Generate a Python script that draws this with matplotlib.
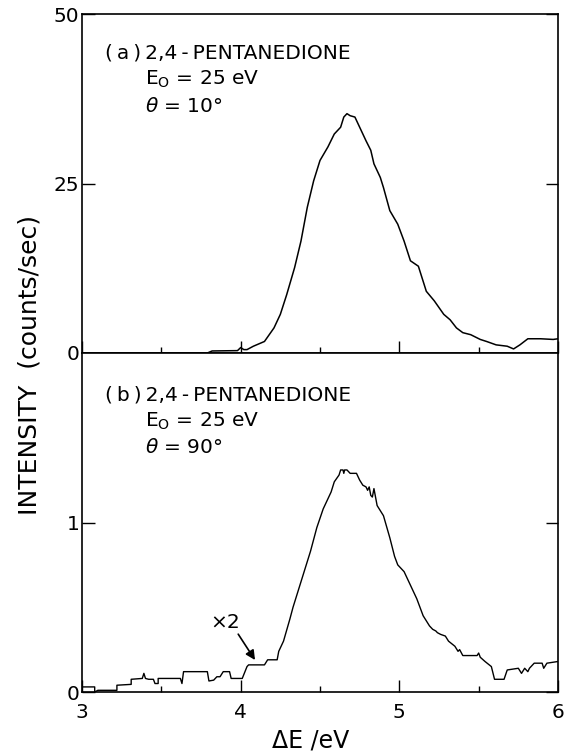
import matplotlib
matplotlib.use("Agg")
import matplotlib.pyplot as plt
from matplotlib.ticker import MultipleLocator, FixedLocator

plt.rcParams['font.family'] = ['DejaVu Sans']
plt.rcParams['mathtext.fontset'] = 'dejavusans'

# ---- data: panel (a), theta = 10 deg, counts/sec ----
a_energy = [3.00, 3.79, 3.82, 3.98, 4.00, 4.02, 4.04, 4.08, 4.15, 4.21, 4.25, 4.29,
            4.34, 4.38, 4.42, 4.46, 4.50, 4.55, 4.59, 4.63, 4.65, 4.67, 4.69, 4.72,
            4.75, 4.79, 4.82, 4.84, 4.88, 4.90, 4.94, 4.99, 5.03, 5.07, 5.12, 5.17,
            5.22, 5.28, 5.32, 5.36, 5.40, 5.45, 5.51, 5.55, 5.61, 5.68, 5.72, 5.76,
            5.81, 5.89, 5.97, 6.00]
a_counts = [0.0, 0.0, 0.3, 0.35, 0.8, 0.5, 0.5, 1.0, 1.7, 3.7, 5.7, 8.6,
            12.6, 16.5, 21.5, 25.4, 28.4, 30.4, 32.3, 33.3, 34.8, 35.3, 35.0, 34.8,
            33.3, 31.3, 29.9, 27.9, 25.9, 24.4, 21.0, 19.0, 16.5, 13.6, 12.8, 9.1,
            7.7, 5.7, 4.9, 3.7, 3.0, 2.7, 2.0, 1.7, 1.2, 1.0, 0.6, 1.2,
            2.1, 2.1, 2.0, 2.1]

# ---- data: panel (b), theta = 90 deg, counts/sec ----
b_energy = [3.00, 3.08, 3.08, 3.10, 3.22, 3.22, 3.31, 3.31, 3.38, 3.39, 3.40, 3.42,
            3.45, 3.46, 3.48, 3.48, 3.62, 3.63, 3.64, 3.71, 3.72, 3.79, 3.80, 3.83,
            3.85, 3.87, 3.89, 3.93, 3.94, 4.01, 4.04, 4.05, 4.15, 4.17, 4.18, 4.23,
            4.24, 4.27, 4.31, 4.33, 4.36, 4.40, 4.44, 4.48, 4.52, 4.57, 4.59, 4.62,
            4.63, 4.645, 4.65, 4.655, 4.67, 4.69, 4.73, 4.75, 4.77, 4.79, 4.80, 4.81,
            4.82, 4.83, 4.84, 4.86, 4.90, 4.94, 4.97, 4.99, 5.03, 5.07, 5.11, 5.15,
            5.19, 5.21, 5.23, 5.24, 5.26, 5.29, 5.31, 5.35, 5.37, 5.38, 5.40, 5.49,
            5.50, 5.51, 5.54, 5.58, 5.60, 5.66, 5.68, 5.75, 5.77, 5.79, 5.81, 5.82,
            5.85, 5.90, 5.91, 5.93, 6.00]
b_counts = [0.03, 0.03, 0.00, 0.01, 0.01, 0.04, 0.045, 0.075, 0.08, 0.11, 0.08, 0.075,
            0.075, 0.05, 0.05, 0.08, 0.08, 0.05, 0.12, 0.12, 0.12, 0.12, 0.065, 0.07,
            0.09, 0.09, 0.12, 0.12, 0.08, 0.08, 0.15, 0.16, 0.16, 0.19, 0.19, 0.19,
            0.24, 0.30, 0.43, 0.50, 0.59, 0.71, 0.83, 0.97, 1.08, 1.18, 1.24, 1.28,
            1.31, 1.31, 1.29, 1.31, 1.31, 1.29, 1.29, 1.25, 1.22, 1.21, 1.19, 1.21,
            1.16, 1.15, 1.20, 1.10, 1.04, 0.91, 0.80, 0.75, 0.71, 0.63, 0.55, 0.45,
            0.39, 0.37, 0.36, 0.35, 0.34, 0.33, 0.30, 0.27, 0.24, 0.25, 0.215, 0.215,
            0.23, 0.205, 0.18, 0.15, 0.075, 0.075, 0.13, 0.14, 0.11, 0.14, 0.12, 0.14,
            0.17, 0.17, 0.14, 0.17, 0.18]

x_ticks = [3, 4, 5, 6]
a_yticks = [0, 25, 50]
b_yticks = [0, 1]

fig = plt.figure(figsize=(5.69, 7.52), dpi=100)
L, W = 82 / 569, 476 / 569
H = 339 / 752
ax_a = fig.add_axes([L, 1 - 353 / 752, W, H])
ax_b = fig.add_axes([L, 1 - 692 / 752, W, H])

for ax in (ax_a, ax_b):
    ax.set_xlim(3, 6)
    ax.xaxis.set_major_locator(FixedLocator(x_ticks))
    ax.xaxis.set_minor_locator(MultipleLocator(0.5))
    ax.tick_params(axis='x', which='major', direction='in', length=9, width=1.0,
                   top=False, labelsize=14.5, pad=8)
    ax.tick_params(axis='x', which='minor', direction='in', length=4, width=1.0, top=False)
    ax.tick_params(axis='y', which='major', direction='in', length=9, width=1.0,
                   right=True, labelsize=14.5, pad=2)
    for s in ax.spines.values():
        s.set_linewidth(1.2)

ax_a.plot(a_energy, a_counts, color='black', lw=1.1)
ax_a.set_ylim(0, 50)
ax_a.yaxis.set_major_locator(FixedLocator(a_yticks))
ax_a.tick_params(axis='x', labelbottom=False)

ax_b.plot(b_energy, b_counts, color='black', lw=1.0)
ax_b.set_ylim(0, 2)
ax_b.yaxis.set_major_locator(FixedLocator(b_yticks))

fs = 14.5
ts = "\u2009"
ax_a.text(0.048, 0.869, f"({ts}a{ts}){ts}2,4{ts}-{ts}PENTANEDIONE", transform=ax_a.transAxes,
          fontsize=fs, va='baseline')
ax_a.text(0.132, 0.791, r"E$_\mathrm{O}$ = 25 eV", transform=ax_a.transAxes, fontsize=fs, va='baseline')
ax_a.text(0.132, 0.711, r"$\it{\theta}$ = 10°", transform=ax_a.transAxes, fontsize=fs, va='baseline')

ax_b.text(0.048, 0.861, f"({ts}b{ts}){ts}2,4{ts}-{ts}PENTANEDIONE", transform=ax_b.transAxes,
          fontsize=fs, va='baseline')
ax_b.text(0.132, 0.782, r"E$_\mathrm{O}$ = 25 eV", transform=ax_b.transAxes, fontsize=fs, va='baseline')
ax_b.text(0.132, 0.705, r"$\it{\theta}$ = 90°", transform=ax_b.transAxes, fontsize=fs, va='baseline')

ax_b.annotate("", xy=(4.10, 0.175), xytext=(3.975, 0.355),
              arrowprops=dict(arrowstyle='-|>', color='black', lw=1.2, mutation_scale=14))
ax_b.text(3.90, 0.41, "×2", fontsize=fs, ha='center', va='center')

fig.text(30 / 569, 1 - 365 / 752, "INTENSITY  (counts/sec)", rotation=90,
         fontsize=18, ha='center', va='center')
fig.text(311 / 569, 1 - 741 / 752, "ΔE /eV", fontsize=17, ha='center', va='center')

fig.savefig("out.png", dpi=100)
